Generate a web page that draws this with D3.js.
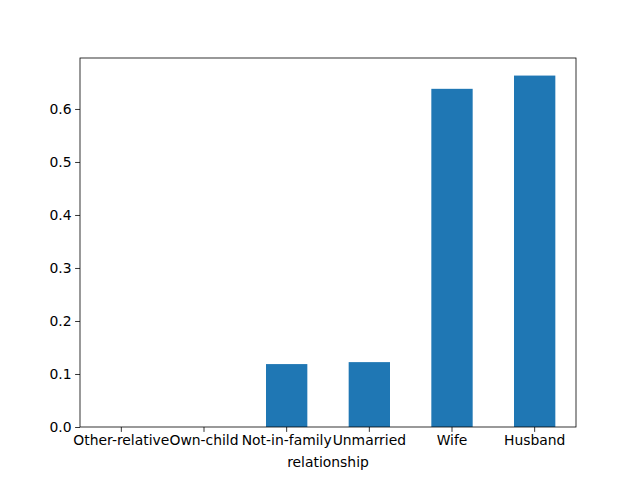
<!DOCTYPE html>
<html lang="en">
<head>
    <meta charset="UTF-8">
    <title>relationship</title>
    <script src="https://d3js.org/d3.v7.min.js"></script>
<style>
    body { margin: 0; background: #fff; }
    text { font-family: "DejaVu Sans", sans-serif; font-size: 13.9px; fill: #000; }
    .bar { fill: #1f77b4; }
</style>
</head>
<body>
    <svg id="canvas" width="640" height="480"></svg>

    <script>
        var categories = ["Other-relative", "Own-child", "Not-in-family", "Unmarried", "Wife", "Husband"];
        var values = [0.0, 0.0, 0.1187, 0.1224, 0.638, 0.663];
        var yTicks = [0, 0.1, 0.2, 0.3, 0.4, 0.5, 0.6];

        var svg = d3.select("svg");
        var plotLeft = 80, plotRight = 576, plotTop = 58, plotBottom = 427;

        var x = d3.scaleBand()
            .domain(categories)
            .range([plotLeft, plotRight])
            .paddingInner(0.5)
            .paddingOuter(0.25);

        var y = d3.scaleLinear()
            .domain([0, d3.max(values) * 1.05])
            .range([plotBottom, plotTop]);

        svg.selectAll(".bar")
            .data(values)
            .enter()
            .append("rect")
            .attr("class", "bar")
            .attr("x", function(d, i) { return x(categories[i]); })
            .attr("width", x.bandwidth())
            .attr("y", function(d) { return y(d); })
            .attr("height", function(d) { return plotBottom - y(d); });

        var xAxis = svg.append("g")
            .attr("transform", "translate(0," + plotBottom + ")")
            .call(d3.axisBottom(x).tickSize(4.9).tickPadding(3.5));
        var yAxis = svg.append("g")
            .attr("transform", "translate(" + plotLeft + ",0)")
            .call(d3.axisLeft(y).tickValues(yTicks).tickFormat(d3.format(".1f")).tickSize(4.9).tickPadding(3.5));

        [xAxis, yAxis].forEach(function(a) {
            a.select(".domain").remove();
            a.selectAll(".tick line").attr("stroke", "#000").attr("stroke-width", 0.8);
            a.selectAll("text").style("font-family", "DejaVu Sans").style("font-size", "13.9px").attr("fill", "#000");
        });

        svg.append("rect")
            .attr("x", plotLeft).attr("y", plotTop)
            .attr("width", plotRight - plotLeft).attr("height", plotBottom - plotTop)
            .attr("fill", "none").attr("stroke", "#000").attr("stroke-width", 0.8);

        svg.append("text")
            .attr("x", (plotLeft + plotRight) / 2)
            .attr("y", 467)
            .attr("text-anchor", "middle")
            .text("relationship");
    </script>
</body>
</html>
